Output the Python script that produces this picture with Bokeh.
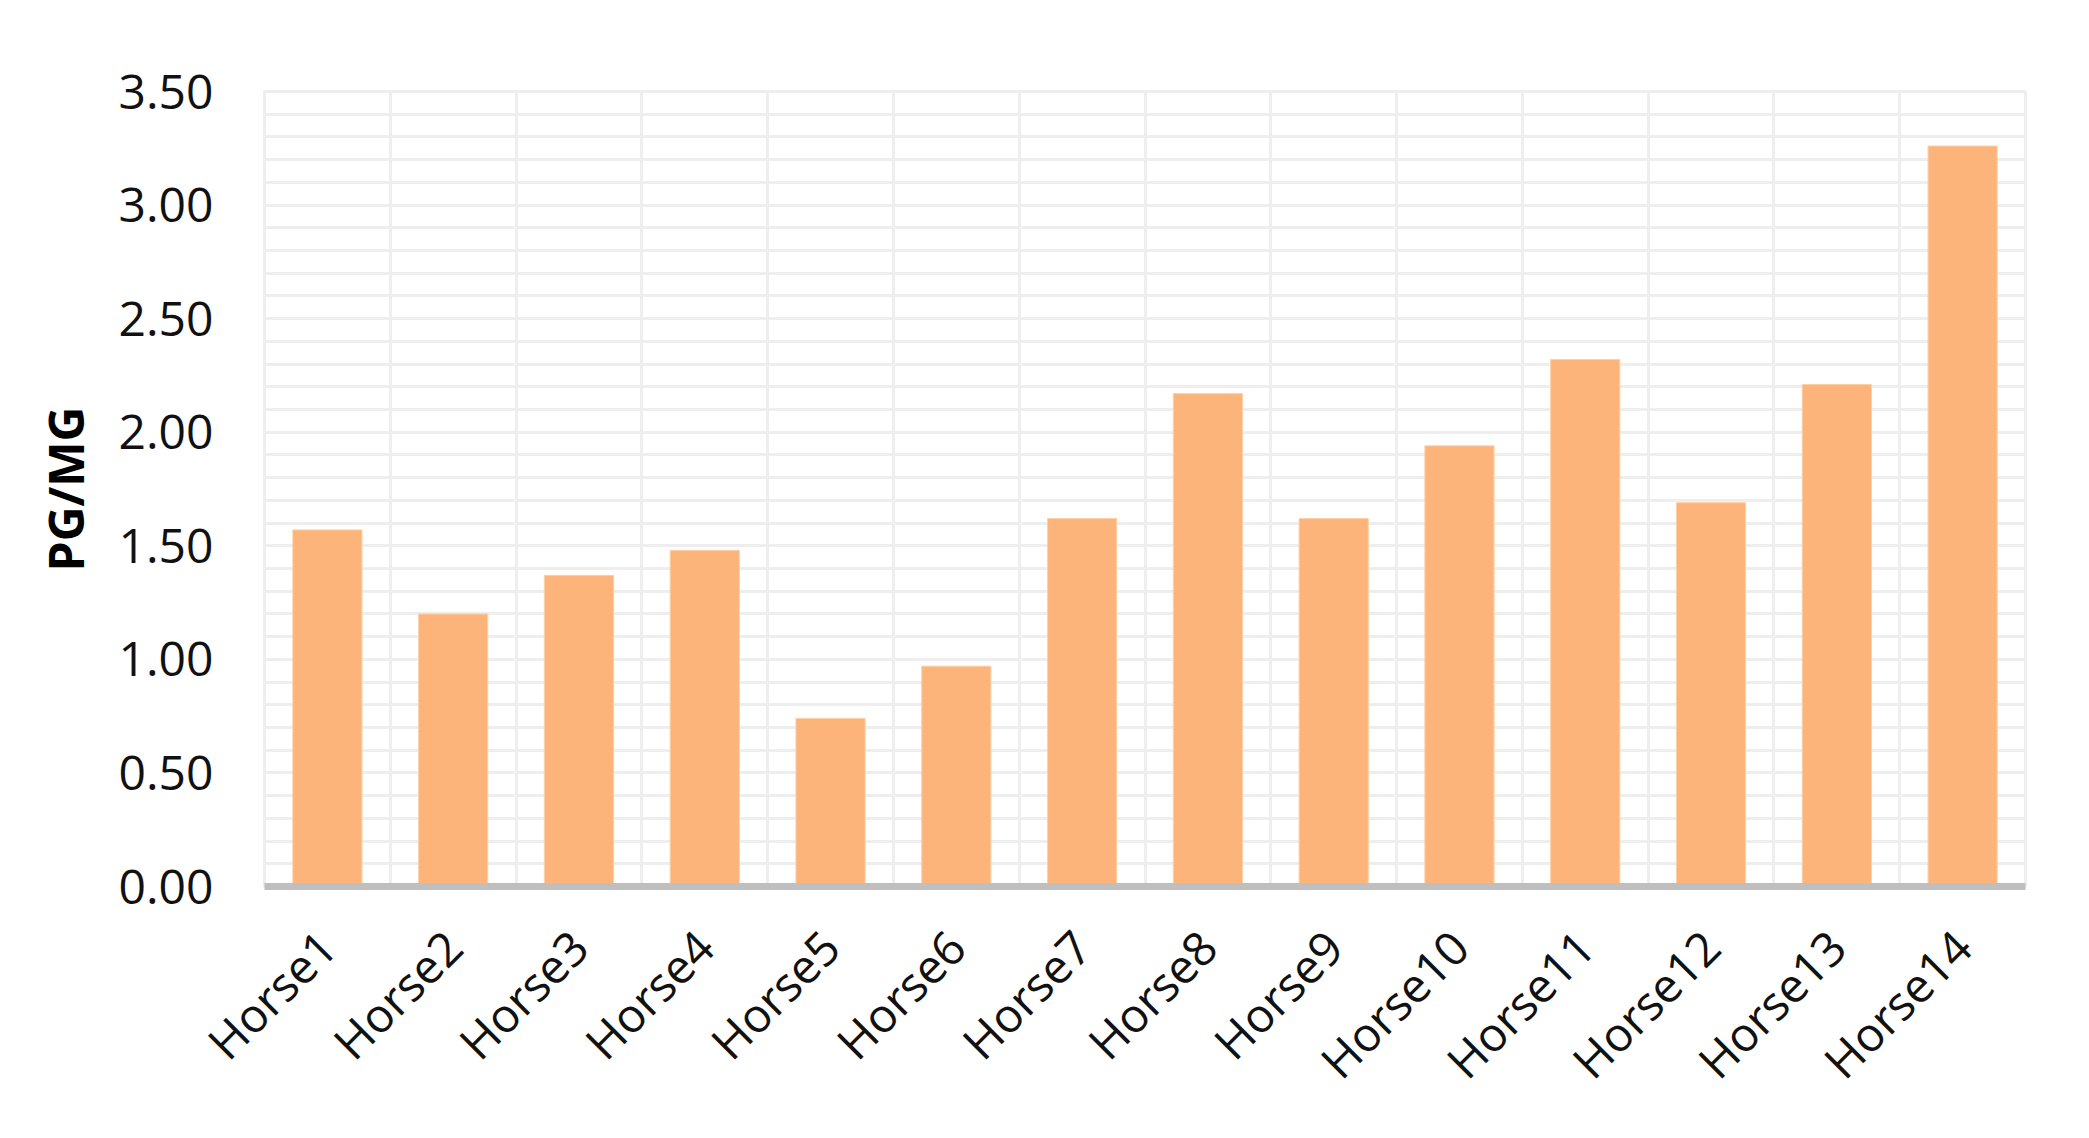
from bokeh.plotting import figure
from bokeh.models import (Range1d, FixedTicker, SingleIntervalTicker,
                          NumeralTickFormatter, ColumnDataSource)
from bokeh.embed import file_html
from bokeh.resources import INLINE

horses = ["Horse1", "Horse2", "Horse3", "Horse4", "Horse5", "Horse6", "Horse7",
          "Horse8", "Horse9", "Horse10", "Horse11", "Horse12", "Horse13", "Horse14"]
pg_mg = [1.57, 1.20, 1.37, 1.48, 0.74, 0.97, 1.62, 2.17, 1.62, 1.94, 2.32, 1.69, 2.21, 3.26]
y_label = "PG/MG"
y_min, y_max = 0.0, 3.5

FONT = "Open Sans"
GRID = "#eeeeee"

n = len(horses)
centers = [i + 0.5 for i in range(n)]          # category slot centres
src = ColumnDataSource(dict(x=centers, horse=horses, value=pg_mg))

p = figure(x_range=Range1d(0, n), y_range=Range1d(y_min, y_max),
           width=2073, height=1122, output_backend="svg", toolbar_location=None,
           min_border_left=264, min_border_right=48, min_border_top=91, min_border_bottom=236,
           background_fill_color="white", border_fill_color="white")

p.vbar(x="x", top="value", width=0.55, source=src,
       fill_color="#FDB47A", line_color="#FDD0A6", line_width=1)

# frame outline (light grey border)
p.outline_line_color = GRID
p.outline_line_width = 3

# horizontal grid every 0.1
p.ygrid.ticker = SingleIntervalTicker(interval=0.1, num_minor_ticks=0)
p.ygrid.grid_line_color = GRID
p.ygrid.grid_line_width = 3

# vertical grid lines at category boundaries
p.xgrid.ticker = FixedTicker(ticks=list(range(1, n)))
p.xgrid.grid_line_color = GRID
p.xgrid.grid_line_width = 3

# y axis
p.yaxis.ticker = SingleIntervalTicker(interval=0.5, num_minor_ticks=0)
p.yaxis.formatter = NumeralTickFormatter(format="0.00")
p.yaxis.axis_line_color = None
p.yaxis.major_tick_line_color = None
p.yaxis.minor_tick_line_color = None
p.yaxis.major_tick_out = 0
p.yaxis.major_tick_in = 0
p.yaxis.major_label_standoff = 51
p.yaxis.major_label_text_font = FONT
p.yaxis.major_label_text_font_size = "48px"
p.yaxis.major_label_text_color = "#111111"
p.yaxis.axis_label = y_label
p.yaxis.axis_label_text_font = FONT
p.yaxis.axis_label_text_font_size = "48px"
p.yaxis.axis_label_text_font_style = "bold"
p.yaxis.axis_label_text_color = "#000000"
p.yaxis.axis_label_standoff = 18

# x axis: category names at slot centres
p.xaxis.ticker = FixedTicker(ticks=centers, minor_ticks=[])
p.xaxis.major_label_overrides = {c: h for c, h in zip(centers, horses)}
p.xaxis.axis_line_color = "#bfbfbf"
p.xaxis.axis_line_width = 7
p.xaxis.major_tick_line_color = None
p.xaxis.minor_tick_line_color = None
p.xaxis.major_tick_out = 0
p.xaxis.major_tick_in = 0
p.xaxis.major_label_orientation = 0.7854
p.xaxis.major_label_standoff = 52
p.xaxis.major_label_text_font = FONT
p.xaxis.major_label_text_font_size = "47px"
p.xaxis.major_label_text_color = "#111111"

open("out.html", "w").write(file_html(p, INLINE))
